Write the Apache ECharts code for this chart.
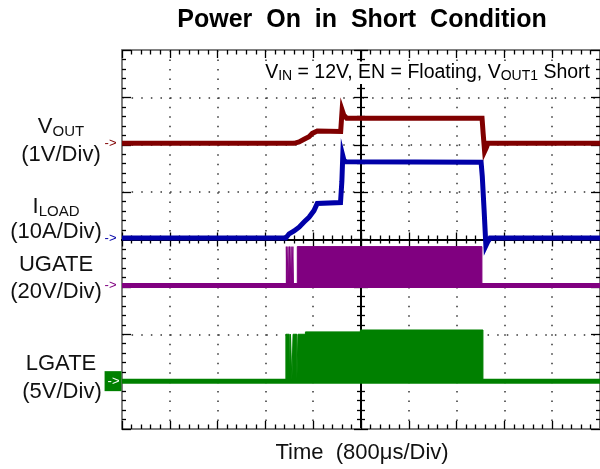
<!DOCTYPE html>
<html>
<head>
<meta charset="utf-8">
<script src="https://cdn.jsdelivr.net/npm/echarts@6/dist/echarts.min.js"></script>
<style>html,body{margin:0;padding:0;background:#fff}#c{width:600px;height:469px}</style>
</head>
<body>
<div id="c"></div>
<script>
// ---------- data (time in µs relative to the trigger, 800 µs/div) ----------
const xTickStep = 800;            // µs per division
const xRange = [-4000, 4000];
const yRange = [-4, 4];           // graticule divisions

// VOUT (V), 1 V/div
const voutTime = [-4000, -1120, -1036, -953, -870, -815, -732, -340, -316, -290, -240, 2026, 2045, 2069, 2095, 2124, 4000];
const voutVal  = [0, 0, 0.03, 0.085, 0.14, 0.21, 0.26, 0.25, 0.70, 0.60, 0.53, 0.53, 0.20, -0.17, -0.10, 0, 0];

// ILOAD (A), 10 A/div
const iloadTime = [-4000, -1259, -1203, -1120, -1036, -953, -870, -787, -732, -715, -343, -320, -305, -285, -250, 2010, 2030, 2060, 2090, 2120, 2160, 4000];
const iloadVal  = [0, 0, 0.9, 1.5, 2.3, 3.4, 4.4, 5.8, 7.3, 7.5, 7.5, 12, 17.4, 16.4, 16.1, 16.0, 13, 6, -1.6, -0.8, 0, 0];

// UGATE (V), 20 V/div : low trace + switching pulses
const ugateTime = [-4000, 4000];
const ugateVal  = [0, 0];
const ugPulseStart = [-1250, -1222, -1196, -1170, -1140, -1066];
const ugPulseEnd   = [-1240, -1212, -1186, -1160, -1130, 2024];
const ugPulseHigh  = [16.4, 16.4, 16.4, 16.4, 16.4, 16.4];

// LGATE (V), 5 V/div : low trace + switching pulses
const lgateTime = [-4000, 4000];
const lgateVal  = [0, 0];
const lgPulseStart = [-1257, -1180, -1137, -1054, -930, -10];
const lgPulseEnd   = [-1200, -1157, -1074, -930, -10, 2041];
const lgPulseHigh  = [4.95, 4.95, 4.95, 4.95, 5.2, 5.4];

// channel settings (scale per division, zero-level position in divisions)
const CH = {
  vout:  {scale: 1,  off: 2.03,  color: '#800000'},
  iload: {scale: 10, off: 0.03,  color: '#0000a8'},
  ugate: {scale: 20, off: -0.97, color: '#800080'},
  lgate: {scale: 5,  off: -2.99, color: '#008000'}
};

function trace(times, vals, c) {
  return times.map((t, i) => [t, c.off + vals[i] / c.scale]);
}
function pulses(starts, ends, highs, c) {
  const d = [];
  starts.forEach((s, i) => {
    const h = c.off + highs[i] / c.scale;
    d.push([s, c.off], [s, h], [ends[i], h], [ends[i], c.off]);
  });
  return d;
}

const FONT = 'Liberation Sans, Arial, sans-serif';
const TW = 5;

function marker(c, boxed) {
  const label = boxed ? {
    show: true, position: 'left', distance: 0, formatter: '->',
    color: '#ffffff', fontSize: 13, fontFamily: FONT,
    backgroundColor: c.color, padding: [4, 2, 3, 3], lineHeight: 13
  } : {
    show: true, position: 'left', distance: 5, formatter: '->',
    color: c.color, fontSize: 13, fontFamily: FONT
  };
  return {
    symbol: 'circle', symbolSize: 1, silent: true,
    itemStyle: {color: 'rgba(0,0,0,0)'},
    label: label,
    data: [{coord: [xRange[0], c.off]}]
  };
}

function lineSeries(name, data, c, mp) {
  const s = {
    name: name, type: 'line', data: data, showSymbol: false, symbol: 'none',
    xAxisIndex: 0, yAxisIndex: 0, animation: false,
    lineStyle: {color: c.color, width: TW, cap: 'butt', join: 'miter'},
    z: 3
  };
  if (mp) s.markPoint = mp;
  return s;
}
function bandSeries(name, data, c) {
  return {
    name: name, type: 'line', data: data, showSymbol: false, symbol: 'none',
    xAxisIndex: 0, yAxisIndex: 0, animation: false,
    lineStyle: {color: c.color, width: 1},
    areaStyle: {color: c.color, opacity: 1, origin: c.off},
    z: 4
  };
}

function xAx(o) {
  return Object.assign({type: 'value', min: xRange[0], max: xRange[1], interval: xTickStep,
    axisLabel: {show: false}, splitLine: {show: false}}, o);
}
function yAx(o) {
  return Object.assign({type: 'value', min: yRange[0], max: yRange[1], interval: 1,
    axisLabel: {show: false}, splitLine: {show: false}}, o);
}
function frameLine() { return {onZero: false, lineStyle: {color: '#808080', width: 2}}; }
function centerLine() { return {onZero: true, onZeroAxisIndex: 0, lineStyle: {color: '#000', width: 2}}; }
function tk(len, inside) { return {show: true, inside: inside, length: len, lineStyle: {color: '#000', width: 1.3}}; }
function mtk(len) { return {show: true, splitNumber: 5, length: len, lineStyle: {color: '#000', width: 1.3}}; }

function txt(x, y, text, rich) {
  const st = {x: x, y: y, text: text, textAlign: 'center', textVerticalAlign: 'middle',
    fontFamily: FONT, fontSize: 22, fill: '#111'};
  if (rich) st.rich = {
    b: {fontFamily: FONT, fontSize: 22, fill: '#111', lineHeight: 24},
    s: {fontFamily: FONT, fontSize: 15, fill: '#111', lineHeight: 19, verticalAlign: 'bottom'}
  };
  return {type: 'text', z: 100, silent: true, style: st};
}

const option = {
  animation: false,
  backgroundColor: '#ffffff',
  title: [
    {
      text: 'Power  On  in  Short  Condition',
      left: 362, top: 8, textAlign: 'center', padding: 0,
      textStyle: {fontFamily: FONT, fontWeight: 'bold', fontSize: 25, color: '#000'}
    },
    {
      text: '{n|V}{s|IN}{n| = 12V, EN = Floating, V}{s|OUT1}{n| Short}',
      right: 8, top: 61, padding: [1, 2, 1, 3], backgroundColor: '#ffffff',
      textStyle: {
        fontWeight: 'normal',
        rich: {
          n: {fontFamily: FONT, fontSize: 19.5, fontWeight: 'normal', color: '#000', lineHeight: 21},
          s: {fontFamily: FONT, fontSize: 14, fontWeight: 'normal', color: '#000', lineHeight: 16, verticalAlign: 'bottom'}
        }
      }
    }
  ],
  grid: {left: 122, top: 50, width: 481, height: 379},
  xAxis: [
    xAx({position: 'bottom', axisLine: frameLine(), axisTick: tk(8, true), minorTick: mtk(4.5),
      splitLine: {show: true, lineStyle: {color: '#333', width: 1.5, type: [1.5, 7.975]}}}),
    xAx({position: 'top', axisLine: frameLine(), axisTick: tk(8, true), minorTick: mtk(4.5)}),
    xAx({position: 'bottom', axisLine: centerLine(), axisTick: tk(7, true), minorTick: mtk(4)}),
    xAx({position: 'bottom', axisLine: centerLine(), axisTick: tk(7, false), minorTick: mtk(4)})
  ],
  yAxis: [
    yAx({position: 'left', axisLine: frameLine(), axisTick: tk(9, true), minorTick: mtk(4),
      splitLine: {show: true, lineStyle: {color: '#333', width: 1.5, type: [1.5, 8.12]}}}),
    yAx({position: 'right', axisLine: frameLine(), axisTick: tk(9, true), minorTick: mtk(4)}),
    yAx({position: 'left', axisLine: centerLine(), axisTick: tk(7, true), minorTick: mtk(4)}),
    yAx({position: 'left', axisLine: centerLine(), axisTick: tk(7, false), minorTick: mtk(4)})
  ],
  graphic: [
    txt(61, 127, '{b|V}{s|OUT}', true),
    txt(61, 155, '(1V/Div)'),
    txt(56, 207, '{b|I}{s|LOAD}', true),
    txt(56, 232, '(10A/Div)'),
    txt(56, 265, 'UGATE'),
    txt(56, 292, '(20V/Div)'),
    txt(61, 364, 'LGATE'),
    txt(62, 392, '(5V/Div)'),
    txt(362, 453, 'Time  (800\u03bcs/Div)')
  ],
  series: [
    lineSeries('UGATE', trace(ugateTime, ugateVal, CH.ugate), CH.ugate, marker(CH.ugate, false)),
    bandSeries('UGATE switching', pulses(ugPulseStart, ugPulseEnd, ugPulseHigh, CH.ugate), CH.ugate),
    lineSeries('LGATE', trace(lgateTime, lgateVal, CH.lgate), CH.lgate, marker(CH.lgate, true)),
    bandSeries('LGATE switching', pulses(lgPulseStart, lgPulseEnd, lgPulseHigh, CH.lgate), CH.lgate),
    lineSeries('ILOAD', trace(iloadTime, iloadVal, CH.iload), CH.iload, marker(CH.iload, false)),
    lineSeries('VOUT', trace(voutTime, voutVal, CH.vout), CH.vout, marker(CH.vout, false))
  ]
};

const chart = echarts.init(document.getElementById('c'));
chart.setOption(option);
</script>
</body>
</html>
